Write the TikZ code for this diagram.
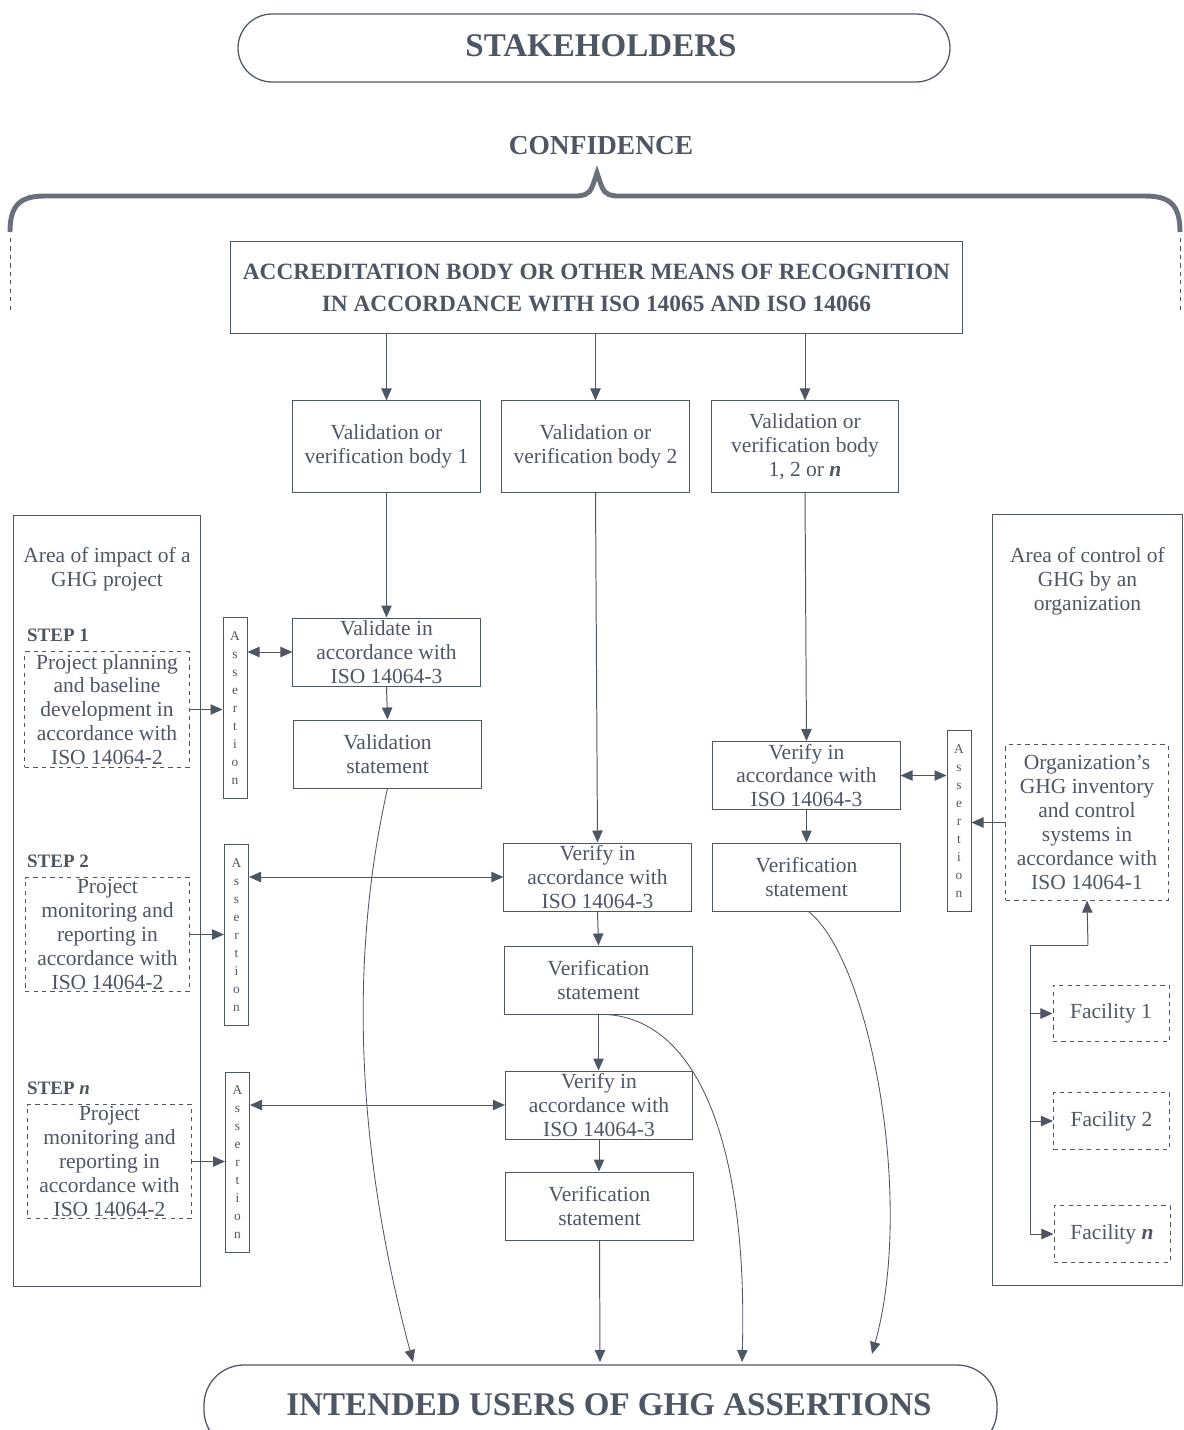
\documentclass[tikz,border=0pt]{standalone}
\usepackage{fontspec}
\setmainfont{Liberation Serif}
\usetikzlibrary{arrows.meta,calc}
\definecolor{ink}{RGB}{78,86,100}
\begin{document}
\begin{tikzpicture}[x=0.025cm,y=-0.025cm,>={Triangle[length=3mm,width=2.6mm]},
  line width=0.7pt,draw=ink,text=ink,
  every node/.style={text=ink},
  body/.style={font=\fontsize{15.3}{17}\selectfont,align=center},
  solidbox/.style={body,draw=ink,inner sep=0pt,minimum width=4.68cm},
  vbbox/.style={solidbox,minimum height=2.28cm},
  stepbox/.style={solidbox,minimum height=1.7cm},
  dashbox/.style={body,draw=ink,dashed,inner sep=0pt},
  assertbox/.style={draw=ink,inner sep=0pt,minimum width=0.6cm,minimum height=4.5cm,
    align=center,font=\fontsize{9.5}{12.8}\selectfont},
  areabox/.style={draw=ink,inner sep=0pt,minimum width=4.65cm,minimum height=19.27cm},
  steplabel/.style={anchor=west,font=\fontsize{13.5}{15}\selectfont\bfseries},
  pill/.style={draw=ink,line width=0.9pt}]
\useasboundingbox (0,0) rectangle (1184,1430);

% top
\draw[pill,rounded corners=0.85cm] (238,14) rectangle (950,82);
\node[font=\fontsize{23.5}{27}\selectfont\bfseries] (stake) at (601,46) {STAKEHOLDERS};
\node[font=\fontsize{19.5}{23}\selectfont\bfseries] (conf) at (601,146) {CONFIDENCE};

% brace
\draw[line width=3.5pt,draw=ink!85] (10,232) .. controls (10,205) and (20,196) .. (45,196)
  -- (578,196) .. controls (590,194) .. (597,173) .. controls (604,194) .. (616,196)
  -- (1145,196) .. controls (1170,196) and (1180,205) .. (1180,232);
\draw[dashed,line width=0.6pt] (10,238) -- (10,310);
\draw[dashed,line width=0.6pt] (1180,238) -- (1180,310);

\node[draw=ink,inner sep=0pt,minimum width=18.28cm,minimum height=2.28cm,align=center,
  font=\fontsize{16.6}{22.8}\selectfont\bfseries] (accr) at (596.5,287.5)
  {ACCREDITATION BODY OR OTHER MEANS OF RECOGNITION\\IN ACCORDANCE WITH ISO 14065 AND ISO 14066};

% validation/verification bodies
\node[vbbox] (vb1) at (386.5,446.5) {Validation or\\verification body 1};
\node[vbbox] (vb2) at (595.5,446.5) {Validation or\\verification body 2};
\node[vbbox] (vb3) at (805,446.5) {Validation or\\verification body\\1, 2 or \textbf{\textit{n}}};
\foreach \b in {vb1,vb2,vb3}
  \draw[->] (accr.south -| \b.north) -- (\b.north);

% left area
\node[areabox] (impact) at (107,900.5) {};
\node[body,anchor=north] at ($(impact.north)+(0,28)$) {Area of impact of a\\GHG project};
\node[steplabel] (s1) at (22,635) {STEP 1};
\node[steplabel] (s2) at (22,861) {STEP 2};
\node[steplabel] (sn) at (22,1088) {STEP \textit{n}};
\node[dashbox,minimum width=4.1cm,minimum height=2.88cm] (d1) at (107,709.5)
  {Project planning\\and baseline\\development in\\accordance with\\ISO 14064-2};
\node[dashbox,minimum width=4.12cm,minimum height=2.83cm] (d2) at (107.5,934.5)
  {Project\\monitoring and\\reporting in\\accordance with\\ISO 14064-2};
\node[dashbox,minimum width=4.12cm,minimum height=2.83cm] (d3) at (109.5,1161.5)
  {Project\\monitoring and\\reporting in\\accordance with\\ISO 14064-2};

\node[assertbox] (a1) at (235,708) {A\\s\\s\\e\\r\\t\\i\\o\\n};
\node[assertbox] (a2) at (236.5,935) {A\\s\\s\\e\\r\\t\\i\\o\\n};
\node[assertbox] (a3) at (237.5,1162.5) {A\\s\\s\\e\\r\\t\\i\\o\\n};

% column 1
\node[stepbox] (val) at (386.5,652) {Validate in\\accordance with\\ISO 14064-3};
\node[stepbox] (valst) at (387.5,754) {Validation\\statement};
\draw[->] (vb1.south) -- (val.north);
\draw[->] (val.south) -- (valst.north);

% column 2
\node[stepbox] (ver2) at (597.5,877) {Verify in\\accordance with\\ISO 14064-3};
\node[stepbox] (st2) at (598.5,980) {Verification\\statement};
\node[stepbox] (ver3) at (599,1105) {Verify in\\accordance with\\ISO 14064-3};
\node[stepbox] (st3) at (599.5,1206) {Verification\\statement};
\draw[->] (vb2.south) -- (ver2.north);
\draw[->] (ver2.south) -- (st2.north);
\draw[->] (st2.south) -- (st2.south |- ver3.north);
\draw[->] (ver3.south) -- (ver3.south |- st3.north);

% column 3
\node[stepbox] (verr) at (806.5,775.5) {Verify in\\accordance with\\ISO 14064-3};
\node[stepbox] (strr) at (806.5,877) {Verification\\statement};
\draw[->] (vb3.south) -- (verr.north);
\draw[->] (verr.south) -- (strr.north);

% assertions
\draw[<->] (a1.east |- val.west) -- (val.west);
\draw[<->] (a2.east |- ver2.west) -- (ver2.west);
\draw[<->] (a3.east |- ver3.west) -- (ver3.west);
\draw[->] (d1.east) -- (d1.east -| a1.west);
\draw[->] (d2.east) -- (d2.east -| a2.west);
\draw[->] (d3.east) -- (d3.east -| a3.west);

% right area
\node[areabox,minimum width=4.73cm,minimum height=19.25cm] (control) at (1087.5,900) {};
\node[body,anchor=north] at ($(control.north)+(0,28)$) {Area of control of\\GHG by an\\organization};
\node[dashbox,minimum width=4.05cm,minimum height=3.88cm] (org) at (1087,822.5)
  {Organization's\\GHG inventory\\and control\\systems in\\accordance with\\ISO 14064-1};
\node[assertbox] (ar) at (959,821) {A\\s\\s\\e\\r\\t\\i\\o\\n};
\draw[<->] (verr.east) -- (verr.east -| ar.west);
\draw[->] (org.west) -- (org.west -| ar.east);

\node[dashbox,minimum width=2.9cm,minimum height=1.42cm] (f1) at (1111,1013.5) {Facility 1};
\node[dashbox,minimum width=2.9cm,minimum height=1.42cm] (f2) at (1111.5,1121) {Facility 2};
\node[dashbox,minimum width=2.9cm,minimum height=1.42cm] (fn) at (1112,1234) {Facility \textbf{\textit{n}}};
\coordinate (fork) at (1088,945);
\coordinate (trunk) at (1030,945);
\draw[->] (fork) -- (org.south);
\draw (fork) -- (trunk) -- (trunk |- fn.west);
\foreach \f in {f1,f2,fn}
  \draw[->] (trunk |- \f.west) -- (\f.west);

% intended users
\draw[pill,rounded corners=1cm] (204,1365) rectangle (997,1450);
\node[font=\fontsize{23.5}{28}\selectfont\bfseries] (users) at (609,1405)
  {INTENDED USERS OF GHG ASSERTIONS};
\coordinate (u1) at (413,1362);
\coordinate (u2) at (600,1362);
\coordinate (u3) at (742,1362);
\coordinate (u4) at (872,1354);
\draw[->,line width=0.6pt] (valst.south) .. controls (340,1000) and (370,1200) .. (u1);
\draw[->] (st3.south) -- (u2);
\draw[->,line width=0.6pt] ($(st2.south)+(8,0)$) .. controls (700,1020) and (748,1150) .. (u3);
\draw[->,line width=0.6pt] ($(strr.south)+(2,0)$) .. controls (870,960) and (915,1200) .. (u4);
\end{tikzpicture}
\end{document}
